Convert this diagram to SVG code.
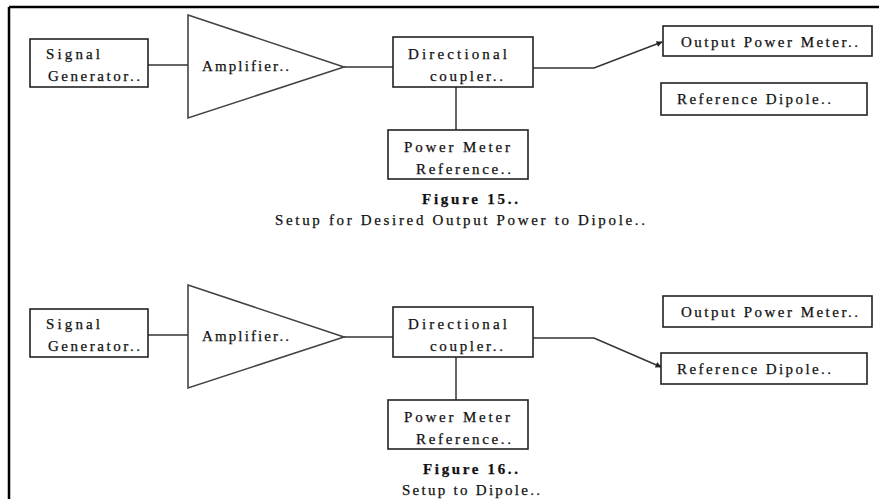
<svg xmlns="http://www.w3.org/2000/svg" width="879" height="499" viewBox="0 0 879 499">
<style>
.box{fill:#fff;stroke:#222;stroke-width:1.6}
.tri{fill:#fff;stroke:#444;stroke-width:1.6}
.ln{fill:none;stroke:#333;stroke-width:1.5}
text{font-family:"Liberation Serif","DejaVu Serif","Times New Roman",serif;font-size:15px;fill:#111;stroke:#111;stroke-width:0.25}
.b{font-weight:bold}
</style>
<defs>
<marker id="ah" viewBox="0 0 10 10" refX="9" refY="5" markerWidth="7" markerHeight="6" orient="auto" markerUnits="userSpaceOnUse">
<path d="M0,0 L10,5 L0,10 z" fill="#222"/>
</marker>
</defs>
<rect width="879" height="499" fill="#fff"/>
<g id="frame">
<line x1="9" y1="7" x2="879" y2="7" stroke="#000" stroke-width="2.5"/>
<line x1="9" y1="7" x2="9" y2="499" stroke="#000" stroke-width="2.5"/>
</g>
<g id="connectors">
<line class="ln" x1="148" y1="65" x2="188" y2="65"/>
<line class="ln" x1="344" y1="67" x2="393" y2="67"/>
<line class="ln" x1="456" y1="87" x2="456" y2="130"/>
<polyline class="ln" points="533,68 594,68 662,42" marker-end="url(#ah)"/>
<line class="ln" x1="148" y1="335" x2="188" y2="335"/>
<line class="ln" x1="344" y1="337" x2="393" y2="337"/>
<line class="ln" x1="456" y1="357" x2="456" y2="400"/>
<polyline class="ln" points="533,338 594,338 661,367" marker-end="url(#ah)"/>
</g>
<g id="fig15">
<g id="sg1"><rect class="box" x="30" y="39" width="118" height="48"/>
<text x="46" y="59" textLength="54" lengthAdjust="spacing">Signal</text>
<text x="48" y="81" textLength="92" lengthAdjust="spacing">Generator..</text></g>
<g id="amp1"><polygon class="tri" points="188,15 344,67 188,118"/>
<text x="202" y="71" textLength="87" lengthAdjust="spacing">Amplifier..</text></g>
<g id="dc1"><rect class="box" x="393" y="37" width="140" height="50"/>
<text x="408" y="59" textLength="99" lengthAdjust="spacing">Directional</text>
<text x="430" y="81" textLength="73" lengthAdjust="spacing">coupler..</text></g>
<g id="pmr1"><rect class="box" x="388" y="130" width="140" height="49"/>
<text x="404" y="152" textLength="106" lengthAdjust="spacing">Power Meter</text>
<text x="416" y="174" textLength="95" lengthAdjust="spacing">Reference..</text></g>
<g id="opm1"><rect class="box" x="663" y="26" width="209" height="30"/>
<text x="681" y="47" textLength="177" lengthAdjust="spacing">Output Power Meter..</text></g>
<g id="rd1"><rect class="box" x="661" y="83" width="206" height="32"/>
<text x="677" y="104" textLength="154" lengthAdjust="spacing">Reference Dipole..</text></g>
<text class="b" x="422" y="204" textLength="96" lengthAdjust="spacing">Figure 15..</text>
<text x="275" y="225" textLength="370" lengthAdjust="spacing">Setup for Desired Output Power to Dipole..</text>
</g>
<g id="fig16">
<g id="sg2"><rect class="box" x="30" y="309" width="118" height="48"/>
<text x="46" y="329" textLength="54" lengthAdjust="spacing">Signal</text>
<text x="48" y="351" textLength="92" lengthAdjust="spacing">Generator..</text></g>
<g id="amp2"><polygon class="tri" points="188,285 344,337 188,388"/>
<text x="202" y="341" textLength="87" lengthAdjust="spacing">Amplifier..</text></g>
<g id="dc2"><rect class="box" x="393" y="307" width="140" height="50"/>
<text x="408" y="329" textLength="99" lengthAdjust="spacing">Directional</text>
<text x="430" y="351" textLength="73" lengthAdjust="spacing">coupler..</text></g>
<g id="pmr2"><rect class="box" x="388" y="400" width="140" height="49"/>
<text x="404" y="422" textLength="106" lengthAdjust="spacing">Power Meter</text>
<text x="416" y="444" textLength="95" lengthAdjust="spacing">Reference..</text></g>
<g id="opm2"><rect class="box" x="663" y="296" width="209" height="31"/>
<text x="681" y="317" textLength="177" lengthAdjust="spacing">Output Power Meter..</text></g>
<g id="rd2"><rect class="box" x="661" y="353" width="206" height="31"/>
<text x="677" y="374" textLength="154" lengthAdjust="spacing">Reference Dipole..</text></g>
<text class="b" x="423" y="474" textLength="95" lengthAdjust="spacing">Figure 16..</text>
<text x="402" y="495" textLength="138" lengthAdjust="spacing">Setup to Dipole..</text>
</g>
</svg>
